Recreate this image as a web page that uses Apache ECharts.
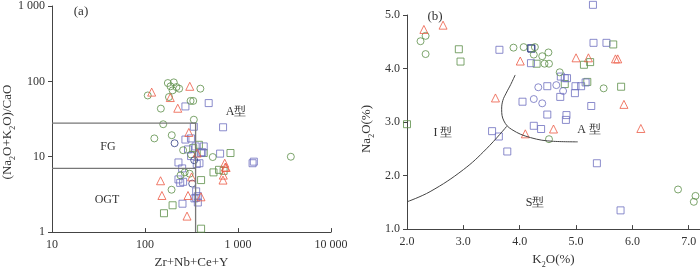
<!DOCTYPE html>
<html><head><meta charset="utf-8">
<script src="https://cdn.jsdelivr.net/npm/echarts@6/dist/echarts.min.js"></script>
<style>html,body{margin:0;padding:0;background:#fff}#c{width:700px;height:274px}</style>
</head><body><div id="c"></div>
<script>
// ---- Panel (a): Zr+Nb+Ce+Y vs (Na2O+K2O)/CaO ----
var leftXTicks = ['10', '100', '1 000', '10 000'];
var leftYTicks = ['1', '10', '100', '1 000'];
var leftTriangles = [[118,72],[187,61],[303,86],[225,44],[296,21],[364,11.2],[720,8.2],[730,7.3],[745,7.2],[695,5.7],[690,4.9],[317,5.4],[147,4.8],[152,3.06],[290,3.06],[400,2.94],[283,1.63]];
var leftGreenCircles = [[107,65],[176,95],[204,97],[218,84],[198,76],[233,80],[188,86],[181,62],[394,80],[309,55],[330,55],[148,43.5],[335,31],[157,27],[126,17.5],[194,19.3],[535,9.9],[3700,10],[257,12.2],[313,10.7],[193,3.65],[241,5.66],[267,6.2],[302,5.95]];
var leftNavyCircles = [[208,15.1],[322,4.4],[338,9.0]];
var leftBlueSquares = [[484,51.5],[272,46.5],[691,24.6],[335,25],[272,16.9],[312,17.5],[428,13.7],[642,11],[413,11.5],[385,8.2],[229,8.4],[251,7.0],[229,5.0],[239,4.5],[257,4.65],[1435,8.2],[1480,8.6],[355,3.47],[370,3.0],[340,2.8],[355,2.85],[370,2.47],[253,2.38],[313,10.2],[360,8.0],[400,11.2],[350,13.7],[290,12.5]];
var leftGreenSquares = [[830,11.2],[545,6.2],[625,6.7],[401,4.9],[160,1.78],[198,2.27],[401,1.11],[380,14.4],[428,11.2],[330,13],[700,6.5]];
var fgUpper = [[10,28],[350,28]];
var fgLower = [[10,7],[350,7]];
var aDivide = [[350,28],[350,1]];

// ---- Panel (b): K2O vs Na2O ----
var rightTriangles = [[2.30,4.73],[2.64,4.81],[4.01,4.14],[3.57,3.45],[4.10,2.78],[4.60,2.87],[5.00,4.20],[5.22,4.20],[5.70,4.18],[5.74,4.18],[5.85,3.33],[6.15,2.88]];
var rightGreenCircles = [[2.24,4.51],[2.33,4.61],[2.33,4.27],[3.89,4.39],[4.07,4.40],[4.27,4.40],[4.25,4.26],[4.40,4.23],[4.51,4.30],[4.44,4.09],[4.52,4.09],[4.71,3.93],[5.49,3.63],[4.52,2.68],[6.81,1.74],[7.12,1.62],[7.09,1.51]];
var rightBlueCircles = [[4.33,3.65],[4.65,3.69],[4.77,3.58],[4.25,3.43],[4.40,3.35]];
var rightGreenSquares = [[2.92,4.36],[2.95,4.13],[2.00,2.96],[4.30,4.09],[4.80,3.71],[5.14,4.07],[5.25,4.12],[5.20,3.75],[5.66,4.45],[5.80,3.66]];
var rightBlueSquares = [[3.64,4.35],[4.20,4.10],[4.73,3.85],[4.80,3.82],[4.84,3.82],[4.49,3.67],[4.99,3.67],[5.09,3.67],[5.17,3.74],[4.98,3.54],[4.72,3.47],[5.27,3.30],[4.05,3.38],[4.49,3.14],[4.83,3.13],[4.82,3.04],[4.25,2.93],[4.38,2.87],[3.51,2.83],[3.63,2.73],[3.78,2.45],[5.37,2.23],[5.79,1.35],[5.30,5.19],[5.31,4.48],[5.54,4.48]];
var rightNavySquares = [[4.20,4.38],[4.21,4.37]];
var curveIS = [[2.0,1.51],[2.41,1.70],[3.0,2.11],[3.41,2.50],[3.77,2.92]];
var curveA = [[3.92,3.88],[3.84,3.70],[3.76,3.54],[3.70,3.40],[3.68,3.24],[3.72,3.02],[3.86,2.86],[4.19,2.71],[4.60,2.64],[5.03,2.63]];

var FONT = '"Liberation Serif","Times New Roman",serif';
var RED = '#ec5a45', GREEN = '#5d8e48', BLUE = '#6e6fbf', NAVY = '#2f3d82', AX = '#444', TXT = '#333';

function sc(data, sym, color, size, xi) {
  return { type: 'scatter', xAxisIndex: xi, yAxisIndex: xi, data: data, symbol: sym, symbolSize: size,
    clip: false, silent: true,
    itemStyle: { color: 'rgba(0,0,0,0)', borderColor: color, borderWidth: 1 } };
}
function ln(data, xi, color, w, smooth) {
  return { type: 'line', xAxisIndex: xi, yAxisIndex: xi, data: data, symbol: 'none', smooth: smooth || false,
    silent: true, lineStyle: { color: color, width: w } };
}
var logIdx = function (v) { return Math.round(Math.log10(v)); };

var chart = echarts.init(document.getElementById('c'), null, { renderer: 'canvas' });
chart.setOption({
  animation: false,
  textStyle: { fontFamily: FONT },
  grid: [
    { left: 52, top: 4, width: 279, height: 235 },
    { left: 407, top: 15, width: 293, height: 224 }
  ],
  xAxis: [
    { type: 'log', gridIndex: 0, min: 10, max: 10000, logBase: 10,
      name: 'Zr+Nb+Ce+Y', nameLocation: 'middle', nameGap: 21,
      nameTextStyle: { fontFamily: FONT, fontSize: 13, color: TXT },
      axisLine: { lineStyle: { color: AX } },
      axisTick: { inside: true, length: 4, lineStyle: { color: AX } },
      minorTick: { show: false }, splitLine: { show: false },
      axisLabel: { fontFamily: FONT, fontSize: 12, color: TXT, margin: 7,
        formatter: function (v) { return leftXTicks[logIdx(v) - 1]; } } },
    { type: 'value', gridIndex: 1, min: 2, max: 7.2, interval: 1,
      name: '{t|K}{s|2}{t|O(%)}', nameLocation: 'middle', nameGap: 21,
      nameTextStyle: { fontFamily: FONT, color: TXT,
        rich: { t: { fontFamily: FONT, fontSize: 13, color: TXT, lineHeight: 16, verticalAlign: 'top' },
                s: { fontFamily: FONT, fontSize: 8, color: TXT, lineHeight: 8, verticalAlign: 'bottom' } } },
      axisLine: { lineStyle: { color: AX } },
      axisTick: { inside: true, length: 4, lineStyle: { color: AX } },
      splitLine: { show: false },
      axisLabel: { fontFamily: FONT, fontSize: 12, color: TXT, margin: 7, showMaxLabel: false,
        formatter: function (v) { return v.toFixed(1); } } }
  ],
  yAxis: [
    { type: 'log', gridIndex: 0, min: 1, max: 1000, logBase: 10,
      axisLine: { lineStyle: { color: AX } },
      axisTick: { inside: false, length: 4, lineStyle: { color: AX } },
      minorTick: { show: false }, splitLine: { show: false },
      axisLabel: { fontFamily: FONT, fontSize: 12, color: TXT, margin: 7,
        formatter: function (v) { return leftYTicks[logIdx(v)]; } } },
    { type: 'value', gridIndex: 1, min: 1, max: 5, interval: 1,
      axisLine: { lineStyle: { color: AX } },
      axisTick: { inside: false, length: 4, lineStyle: { color: AX } },
      splitLine: { show: false },
      axisLabel: { fontFamily: FONT, fontSize: 12, color: TXT, margin: 7,
        formatter: function (v) { return v.toFixed(1); } } }
  ],
  graphic: [
    { type: 'text', x: 9, y: 132, rotation: Math.PI / 2,
      style: { text: '{t|(Na}{s|2}{t|O+K}{s|2}{t|O)/CaO}', fill: TXT,
        textAlign: 'center', textVerticalAlign: 'middle', align: 'center', verticalAlign: 'middle',
        rich: { t: { fontFamily: FONT, fontSize: 13, fill: TXT, lineHeight: 16, verticalAlign: 'top' },
                s: { fontFamily: FONT, fontSize: 8, fill: TXT, lineHeight: 8, verticalAlign: 'bottom' } } } },
    { type: 'text', x: 368, y: 129, rotation: Math.PI / 2,
      style: { text: '{t|Na}{s|2}{t|O(%)}', fill: TXT,
        textAlign: 'center', textVerticalAlign: 'middle', align: 'center', verticalAlign: 'middle',
        rich: { t: { fontFamily: FONT, fontSize: 13, fill: TXT, lineHeight: 16, verticalAlign: 'top' },
                s: { fontFamily: FONT, fontSize: 8, fill: TXT, lineHeight: 8, verticalAlign: 'bottom' } } } },
    { type: 'text', x: 81, y: 12, style: { text: '(a)', font: '13px ' + FONT, fill: TXT, textAlign: 'center', textVerticalAlign: 'middle', align: 'center', verticalAlign: 'middle' } },
    { type: 'text', x: 236, y: 112, style: { text: 'A型', font: '12px ' + FONT, fill: TXT, textAlign: 'center', textVerticalAlign: 'middle', align: 'center', verticalAlign: 'middle' } },
    { type: 'text', x: 108, y: 147, style: { text: 'FG', font: '12px ' + FONT, fill: TXT, textAlign: 'center', textVerticalAlign: 'middle', align: 'center', verticalAlign: 'middle' } },
    { type: 'text', x: 107, y: 200, style: { text: 'OGT', font: '12px ' + FONT, fill: TXT, textAlign: 'center', textVerticalAlign: 'middle', align: 'center', verticalAlign: 'middle' } },
    { type: 'text', x: 435, y: 17, style: { text: '(b)', font: '13px ' + FONT, fill: TXT, textAlign: 'center', textVerticalAlign: 'middle', align: 'center', verticalAlign: 'middle' } },
    { type: 'text', x: 443, y: 133, style: { text: 'I 型', font: '12px ' + FONT, fill: TXT, textAlign: 'center', textVerticalAlign: 'middle', align: 'center', verticalAlign: 'middle' } },
    { type: 'text', x: 589, y: 130, style: { text: 'A 型', font: '12px ' + FONT, fill: TXT, textAlign: 'center', textVerticalAlign: 'middle', align: 'center', verticalAlign: 'middle' } },
    { type: 'text', x: 535, y: 203, style: { text: 'S型', font: '12px ' + FONT, fill: TXT, textAlign: 'center', textVerticalAlign: 'middle', align: 'center', verticalAlign: 'middle' } }
  ],
  series: [
    ln(fgUpper, 0, '#777', 1.3), ln(fgLower, 0, '#777', 1.3), ln(aDivide, 0, '#777', 1.3),
    sc(leftGreenSquares, 'rect', GREEN, 7, 0),
    sc(leftBlueSquares, 'rect', BLUE, 7, 0),
    sc(leftGreenCircles, 'circle', GREEN, 7, 0),
    sc(leftNavyCircles, 'circle', NAVY, 7, 0),
    sc(leftTriangles, 'triangle', RED, 8, 0),
    ln(curveIS, 1, '#444', 1, 0.4), ln(curveA, 1, '#444', 1, 0.4),
    sc(rightGreenSquares, 'rect', GREEN, 7, 1),
    sc(rightBlueSquares, 'rect', BLUE, 7, 1),
    sc(rightNavySquares, 'rect', NAVY, 7, 1),
    sc(rightGreenCircles, 'circle', GREEN, 7, 1),
    sc(rightBlueCircles, 'circle', BLUE, 7, 1),
    sc(rightTriangles, 'triangle', RED, 8, 1)
  ]
});
</script></body></html>
